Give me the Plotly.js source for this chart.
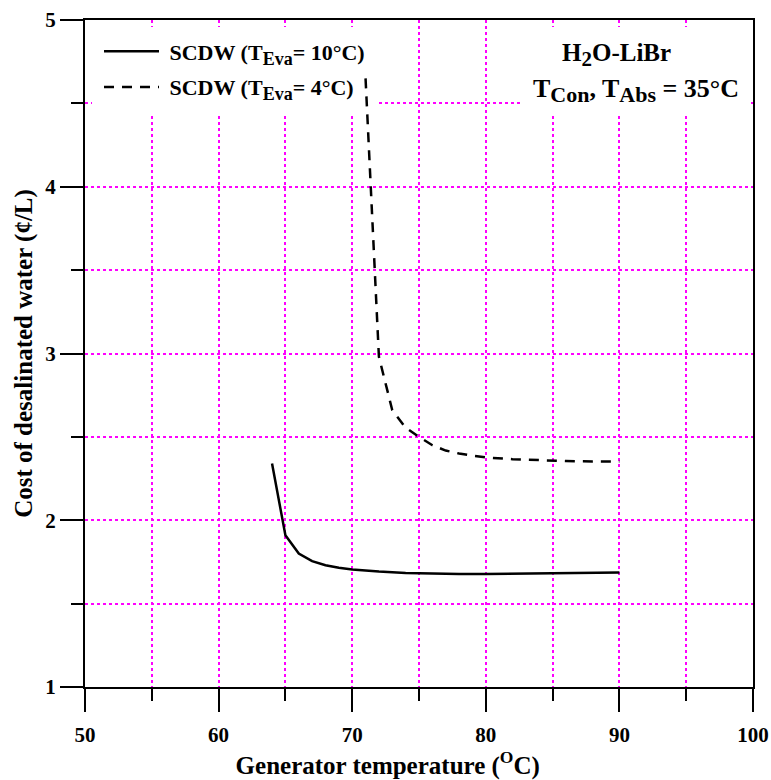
<!DOCTYPE html>
<html>
<head>
<meta charset="utf-8">
<script src="https://cdn.plot.ly/plotly-3.0.1.min.js"></script>
<style>html,body{margin:0;padding:0;background:#fff;}</style>
</head>
<body>
<div id="chart" style="width:771px;height:780px;"></div>
<script>
// Data
const tempEva10 = [64, 65, 66, 67, 68, 69, 70, 72, 74, 76, 78, 80, 82, 84, 86, 88, 90];
const costEva10 = [2.34, 1.91, 1.80, 1.755, 1.73, 1.715, 1.705, 1.692, 1.684, 1.680, 1.678, 1.677, 1.678, 1.679, 1.681, 1.683, 1.686];

const tempEva4 = [71, 72, 73, 74, 75, 76, 77, 78, 79, 80, 82, 84, 86, 88, 90];
const costEva4 = [4.65, 2.98, 2.66, 2.555, 2.50, 2.45, 2.418, 2.40, 2.387, 2.377, 2.366, 2.359, 2.355, 2.353, 2.353];

const seriesNames = [
  '&nbsp;SCDW (T<sub><span style="font-size:18px">Eva</span></sub>= 10°C)',
  '&nbsp;SCDW (T<sub><span style="font-size:18px">Eva</span></sub>= 4°C)'
];
const xTicks = [50, 60, 70, 80, 90, 100];
const yTicks = [1, 2, 3, 4, 5];
const boxLabel = [
  'H<sub><span style="font-size:21px">2</span></sub>O-LiBr',
  'T<sub><span style="font-size:22px">Con</span></sub>, T<sub><span style="font-size:22px">Abs</span></sub> = 35°C'
];
const xTitle = 'Generator temperature (<sup>O</sup>C)';
const yTitle = 'Cost of desalinated water (¢/L)';

const FONT = 'Liberation Serif, Times New Roman, serif';
const GRID = '#ff00ff';

const traces = [
  {x: tempEva10, y: costEva10, name: seriesNames[0], mode: 'lines', legendgroup: 'a',
   line: {color: '#000', width: 2.5}},
  {x: tempEva4, y: costEva4, name: seriesNames[1], mode: 'lines', legendgroup: 'b',
   line: {color: '#000', width: 2.5, dash: '10px,8px'}}
];

// plot area in px: x 85..753, y 20..687
const L = 85, R = 753, T = 20, B = 687;
const X0 = 50, X1 = 100, Y0 = 1, Y1 = 5;
const px = v => (v - L) / (R - L);
const py = v => (B - v) / (B - T);
const xd = v => X0 + (v - L) / (R - L) * (X1 - X0);
const yd = v => Y0 + (B - v) / (B - T) * (Y1 - Y0);

const tickFont = {family: FONT, size: 21, color: '#000', weight: 'bold'};

const axisCommon = {
  showline: true, linecolor: '#000', linewidth: 2, mirror: true,
  ticks: 'outside', ticklen: 23, tickwidth: 2, tickcolor: '#000',
  showgrid: true, gridcolor: GRID, gridwidth: 2, griddash: '3px,3px',
  zeroline: false, tickfont: tickFont
};
const minorCommon = {
  ticks: 'outside', ticklen: 12, tickwidth: 2, tickcolor: '#000',
  showgrid: true, gridcolor: GRID, gridwidth: 2, griddash: '3px,3px'
};

const layout = {
  width: 771, height: 780,
  margin: {l: L, r: 771 - R, t: T, b: 780 - B},
  paper_bgcolor: '#fff', plot_bgcolor: '#fff',
  font: {family: FONT, color: '#000'},
  showlegend: true,
  legend: {
    x: px(99), y: py(30.5), xanchor: 'left', yanchor: 'top',
    bgcolor: 'rgba(0,0,0,0)', borderwidth: 0, itemwidth: 55,
    font: {family: FONT, size: 22, color: '#000', weight: 'bold'},
    tracegroupgap: 4
  },
  xaxis: Object.assign({}, axisCommon, {
    range: [X0, X1], tickmode: 'array', tickvals: xTicks, ticktext: xTicks.map(String),
    ticklabelstandoff: 5,
    minor: Object.assign({}, minorCommon, {dtick: 5, tick0: 50}),
    title: {text: xTitle + '&nbsp;'.repeat(10), standoff: 15,
            font: {family: FONT, size: 25, color: '#000', weight: 'bold'}}
  }),
  yaxis: Object.assign({}, axisCommon, {
    range: [Y0, Y1], tickmode: 'array', tickvals: yTicks, ticktext: yTicks.map(String),
    minor: Object.assign({}, minorCommon, {dtick: 0.5, tick0: 1}),
    title: {text: yTitle, standoff: 6,
            font: {family: FONT, size: 25, color: '#000', weight: 'bold'}}
  }),
  shapes: [
    {type: 'rect', xref: 'x', yref: 'y', layer: 'between',
     x0: xd(92), x1: xd(378), y0: yd(115), y1: yd(27),
     fillcolor: '#fff', line: {width: 0}},
    {type: 'rect', xref: 'x', yref: 'y', layer: 'between',
     x0: xd(520), x1: xd(751), y0: yd(115), y1: yd(27),
     fillcolor: '#fff', line: {width: 0}}
  ],
  annotations: [
    {xref: 'paper', yref: 'paper', x: px(616), y: py(55), xanchor: 'center', yanchor: 'middle',
     showarrow: false, text: boxLabel[0], font: {family: FONT, size: 25, color: '#000', weight: 'bold'}},
    {xref: 'paper', yref: 'paper', x: px(636), y: py(91), xanchor: 'center', yanchor: 'middle',
     showarrow: false, text: boxLabel[1], font: {family: FONT, size: 26, color: '#000', weight: 'bold'}}
  ]
};

Plotly.newPlot('chart', traces, layout, {staticPlot: true});
</script>
</body>
</html>
